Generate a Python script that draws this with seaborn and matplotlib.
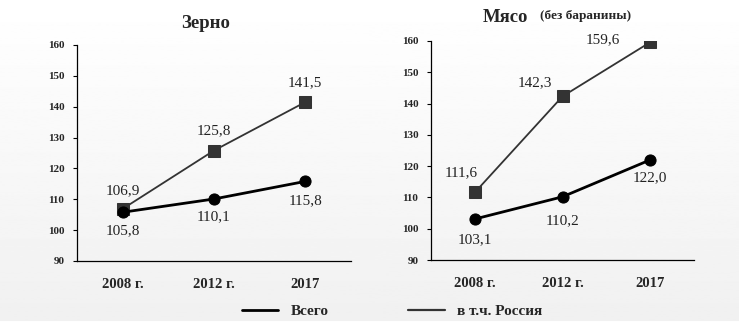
import numpy as np
import pandas as pd
import matplotlib
matplotlib.use("Agg")
import matplotlib.pyplot as plt
from matplotlib.lines import Line2D
import seaborn as sns

years = ["2008 г.", "2012 г.", "2017"]
grain_total = [105.8, 110.1, 115.8]
grain_russia = [106.9, 125.8, 141.5]
meat_total = [103.1, 110.2, 122.0]
meat_russia = [111.6, 142.3, 159.6]
y_ticks = [90, 100, 110, 120, 130, 140, 150, 160]
series_names = ["Всего", "в т.ч. Россия"]

sns.set_theme(style="white")
plt.rcParams['font.family'] = ['Liberation Serif', 'DejaVu Serif']

fig = plt.figure(figsize=(7.39, 3.34), dpi=100)

# background gradient
bg = fig.add_axes([0, 0, 1, 1], zorder=-10)
grad = np.linspace(1.0, 0.94, 256).reshape(-1, 1)
grad[int(256 * 322 / 334):] = 1.0
bg.imshow(grad, aspect='auto', cmap='gray', vmin=0, vmax=1, extent=[0, 1, 0, 1])
bg.set_axis_off()

ax1 = fig.add_axes([77 / 739, 1 - 261 / 334, (351 - 77) / 739, (261 - 45) / 334])
ax2 = fig.add_axes([431 / 739, 1 - 260 / 334, (694 - 431) / 739, (260 - 41) / 334])

c_total = "#000000"
c_rus = "#333333"


def draw(ax, total, russia, total_offsets, rus_offsets):
    df = pd.DataFrame({"year": years * 2,
                       "value": list(total) + list(russia),
                       "series": [series_names[0]] * 3 + [series_names[1]] * 3})
    sns.lineplot(data=df[df.series == series_names[1]], x="year", y="value", ax=ax,
                 color=c_rus, lw=1.3, marker="s", markersize=9,
                 markeredgecolor=c_rus, markerfacecolor=c_rus, legend=False, sort=False)
    sns.lineplot(data=df[df.series == series_names[0]], x="year", y="value", ax=ax,
                 color=c_total, lw=2.0, marker="o", markersize=8,
                 markeredgecolor=c_total, markerfacecolor=c_total, legend=False, sort=False)
    for i, v in enumerate(russia):
        ax.annotate(f"{v:.1f}".replace(".", ","), (i, v), textcoords="offset points",
                    xytext=rus_offsets[i], ha="center", va="center",
                    fontsize=11, color="#222222")
    for i, v in enumerate(total):
        ax.annotate(f"{v:.1f}".replace(".", ","), (i, v), textcoords="offset points",
                    xytext=total_offsets[i], ha="center", va="center",
                    fontsize=11, color="#222222")
    ax.set_xlim(-0.5, 2.5)
    ax.set_ylim(90, 160)
    ax.set_yticks(y_ticks)
    ax.set_yticklabels([str(t) for t in y_ticks], fontsize=8, fontweight="bold")
    ax.set_xticks(range(len(years)))
    ax.set_xticklabels(years, fontsize=10.5, fontweight="bold")
    ax.set_xticks([-0.5, 0.5, 1.5, 2.5], minor=True)
    ax.tick_params(axis="x", which="major", length=0, pad=12)
    ax.tick_params(axis="x", which="minor", length=3, width=0.8, direction="out", color="black")
    ax.tick_params(axis="y", length=3, width=0.8, direction="out", color="black", pad=6, left=True)
    ax.set_xlabel("")
    ax.set_ylabel("")
    ax.set_facecolor("none")
    for s in ["top", "right"]:
        ax.spines[s].set_visible(False)
    for s in ["left", "bottom"]:
        ax.spines[s].set_color("black")
        ax.spines[s].set_linewidth(0.9)


draw(ax1, grain_total, grain_russia,
     total_offsets=[(0, -13), (0, -13), (0, -14)],
     rus_offsets=[(0, 13), (0, 14), (0, 14)])
draw(ax2, meat_total, meat_russia,
     total_offsets=[(0, -15), (0, -17), (0, -13)],
     rus_offsets=[(-10, 14), (-20, 10), (-34, 2)])

fig.text(206 / 739, 1 - 23 / 334, "Зерно", ha="center", va="center",
         fontsize=13.5, fontweight="bold")
fig.text(483 / 739, 1 - 17 / 334, "Мясо", ha="left", va="center",
         fontsize=13.5, fontweight="bold")
fig.text(540 / 739, 1 - 16 / 334, "(без баранины)", ha="left", va="center",
         fontsize=9.5, fontweight="bold")

handles = [Line2D([], [], color=c_total, lw=2.0), Line2D([], [], color=c_rus, lw=1.6)]
leg = fig.legend(handles, series_names, loc="center", bbox_to_anchor=(392 / 739, 1 - 311 / 334),
                 ncol=2, frameon=False, handlelength=2.4, columnspacing=5.2,
                 prop={"weight": "bold", "size": 11})

fig.savefig("out.png", dpi=100)
